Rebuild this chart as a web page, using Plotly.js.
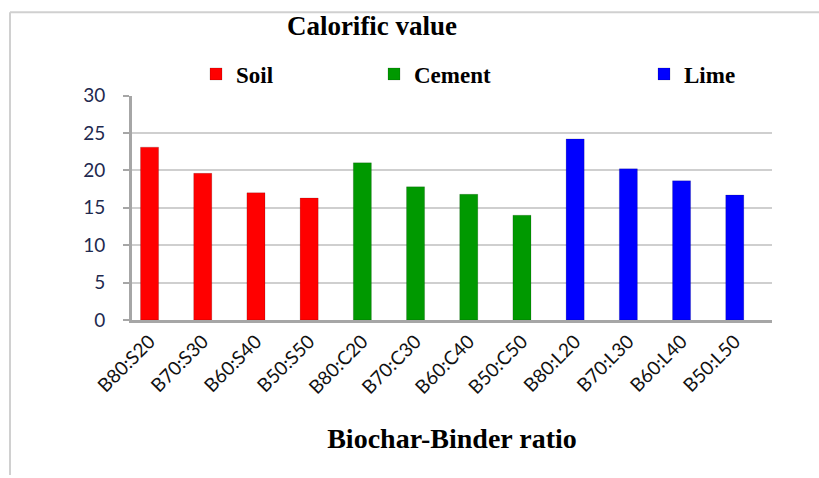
<!DOCTYPE html>
<html>
<head>
<meta charset="utf-8">
<script src="https://cdn.plot.ly/plotly-3.0.1.min.js"></script>
<style>html,body{margin:0;padding:0;background:#fff;}#chart{width:819px;height:478px;}</style>
</head>
<body>
<div id="chart"></div>
<script>
const categories = ["B80:S20","B70:S30","B60:S40","B50:S50","B80:C20","B70:C30","B60:C40","B50:C50","B80:L20","B70:L30","B60:L40","B50:L50"];
const soilCats = ["B80:S20","B70:S30","B60:S40","B50:S50"];
const soilVals = [23.1, 19.6, 17.0, 16.3];
const cementCats = ["B80:C20","B70:C30","B60:C40","B50:C50"];
const cementVals = [21.0, 17.8, 16.8, 14.0];
const limeCats = ["B80:L20","B70:L30","B60:L40","B50:L50"];
const limeVals = [24.2, 20.2, 18.6, 16.7];
const yTicks = [0, 5, 10, 15, 20, 25, 30];

const L = 132, R = 47, T = 91, B = 158, W = 819, H = 478;
const pw = W - L - R, ph = H - T - B;
const px = v => (v - L) / pw;
const py = v => (H - B - v) / ph;

const barStyle = (name, x, y, color, legend) => ({
  type: 'bar', name: '<b>' + name + '</b>', x, y, legend, width: 0.34,
  marker: {color, line: {color: 'rgba(0,0,0,0.15)', width: 1}}
});

const traces = [
  barStyle('Soil', soilCats, soilVals, '#ff0000', 'legend'),
  barStyle('Cement', cementCats, cementVals, '#009900', 'legend2'),
  barStyle('Lime', limeCats, limeVals, '#0000ff', 'legend3')
];

const legFont = {family: 'Liberation Serif, Times New Roman, serif', size: 23, color: '#000'};
const legBase = {xref: 'container', yref: 'container', yanchor: 'middle', xanchor: 'left', font: legFont, bgcolor: 'rgba(0,0,0,0)', orientation: 'h'};

const layout = {
  width: W, height: H,
  margin: {l: L, r: R, t: T, b: B},
  paper_bgcolor: '#fff', plot_bgcolor: '#fff',
  barmode: 'overlay',
  title: {text: '<b>Calorific value</b>', x: 372/W, xref: 'container', xanchor: 'center', y: 1 - 26/H, yref: 'container', yanchor: 'middle',
    font: {family: 'Liberation Serif, Times New Roman, serif', size: 27, color: '#000'}},
  showlegend: true,
  legend: Object.assign({}, legBase, {x: 196/W, y: 1 - 74/H}),
  legend2: Object.assign({}, legBase, {x: 374/W, y: 1 - 74/H}),
  legend3: Object.assign({}, legBase, {x: 644/W, y: 1 - 74/H}),
  xaxis: {
    type: 'category', categoryorder: 'array', categoryarray: categories,
    range: [-0.33, 11.7],
    tickangle: -45, tickfont: {family: 'Lato, Liberation Sans, sans-serif', size: 19, color: '#111'},
    showline: true, linecolor: '#a6a6a6', linewidth: 3,
    ticks: '', showgrid: false, automargin: false,
    title: {text: '<b>Biochar-Binder ratio</b>', standoff: 32,
      font: {family: 'Liberation Serif, Times New Roman, serif', size: 28, color: '#000'}}
  },
  yaxis: {
    range: [0, 30], tickvals: yTicks, ticktext: yTicks.map(String),
    tickfont: {family: 'Lato, Liberation Sans, sans-serif', size: 19, color: '#1f2a4f'},
    showline: true, linecolor: '#a6a6a6', linewidth: 3,
    ticks: 'outside', ticklen: 6, tickcolor: '#a6a6a6', tickwidth: 2,
    ticklabelstandoff: 14,
    showgrid: true, gridcolor: '#cfcfcf', gridwidth: 2,
    zeroline: false, automargin: false
  },
  shapes: [
    {type: 'line', xref: 'paper', yref: 'paper', x0: px(10), x1: px(10), y0: py(6), y1: py(478), line: {color: '#d0d0d0', width: 2}},
    {type: 'line', xref: 'paper', yref: 'paper', x0: px(10), x1: px(819), y0: py(6), y1: py(6), line: {color: '#d0d0d0', width: 2}}
  ]
};

Plotly.newPlot('chart', traces, layout, {displayModeBar: false, staticPlot: true});
</script>
</body>
</html>
